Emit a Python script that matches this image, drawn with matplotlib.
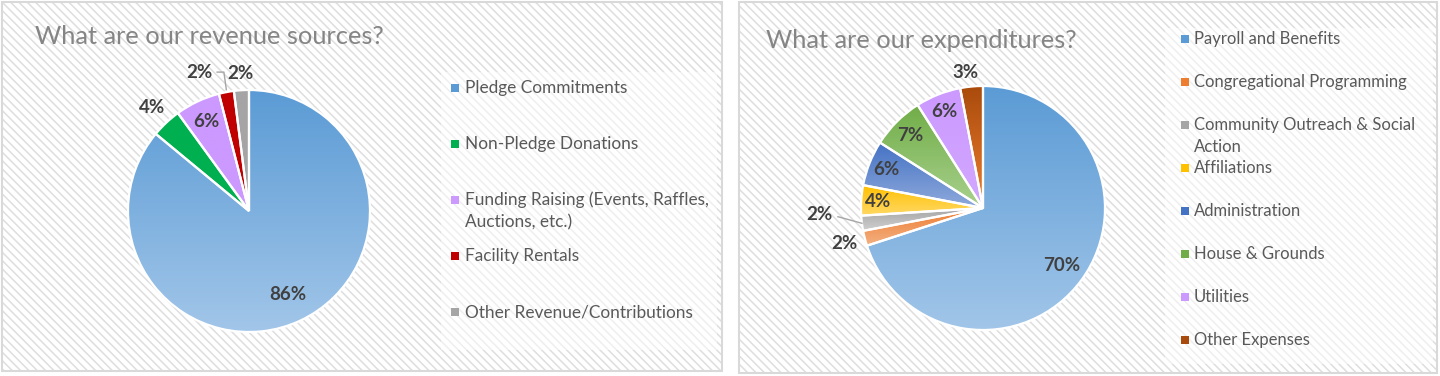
import numpy as np
import matplotlib
matplotlib.use('Agg')
import matplotlib.pyplot as plt
from matplotlib.patches import Rectangle
from matplotlib.colors import LinearSegmentedColormap

plt.rcParams['font.family'] = ['Lato', 'DejaVu Sans']
plt.rcParams['hatch.linewidth'] = 1.1

# Revenue data
rev_labels = ['Pledge Commitments', 'Non-Pledge Donations',
              'Funding Raising (Events, Raffles,\nAuctions, etc.)',
              'Facility Rentals', 'Other Revenue/Contributions']
rev_values = [86, 4, 6, 2, 2]
rev_colors = [('#5B9BD5', '#A2C6E9'), ('#00B050', '#00B050'), ('#CC99FF', '#CC99FF'),
              ('#C00000', '#C00000'), ('#A5A5A5', '#A5A5A5')]
rev_label_r = [0.76, 1.17, 0.82, 1.22, 1.14]
rev_label_shift = [0, 0, 0, 9, 0]

# Expenditure data
exp_labels = ['Payroll and Benefits', 'Congregational Programming',
              'Community Outreach & Social\nAction', 'Affiliations',
              'Administration', 'House & Grounds', 'Utilities', 'Other Expenses']
exp_values = [70, 2, 2, 4, 6, 7, 6, 3]
exp_colors = [('#5B9BD5', '#A2C6E9'), ('#ED7D31', '#F4B183'), ('#A5A5A5', '#D0D0D0'),
              ('#FFC000', '#FFD966'), ('#4472C4', '#8FAADC'), ('#70AD47', '#A9D18E'),
              ('#CC99FF', '#D2A8FF'), ('#A94B0C', '#ED7D31')]
exp_label_r = [0.80, 1.17, 1.34, 0.86, 0.85, 0.84, 0.85, 1.12]
exp_label_shift = [0, 0, -5, 0, 0, 0, 0, 2]

W, H = 1440, 376
fig = plt.figure(figsize=(W / 100, H / 100), dpi=100)
bg = fig.add_axes([0, 0, 1, 1])
bg.set_xlim(0, W)
bg.set_ylim(H, 0)
bg.axis('off')

# panels with striped fill
for x0, y0, w, h in [(2, 2, 720, 369), (739, 2, 698, 371)]:
    bg.add_patch(Rectangle((x0, y0), w, h, facecolor='white', edgecolor='#DEDEDE',
                           linewidth=0, hatch='\\\\\\\\', zorder=0))
    bg.add_patch(Rectangle((x0, y0), w, h, facecolor='none', edgecolor='#D9D9D9',
                           linewidth=1.5, zorder=1))
# legend areas
bg.add_patch(Rectangle((441, 72), 276, 278, facecolor='white', alpha=0.5,
                       edgecolor='none', zorder=1))
bg.add_patch(Rectangle((1165, 28), 268, 336, facecolor='white', alpha=0.5,
                       edgecolor='none', zorder=1))

bg.text(35, 36, 'What are our revenue sources?', fontsize=18.3, color='#858585',
        va='center', ha='left')
bg.text(766, 41, 'What are our expenditures?', fontsize=18.3, color='#858585',
        va='center', ha='left')


def draw_pie(cx, cy, r, values, colors, label_r, label_shift):
    ax = fig.add_axes([(cx - r) / W, (H - cy - r) / H, 2 * r / W, 2 * r / H])
    wedges, _ = ax.pie(values, startangle=90, counterclock=False, radius=1,
                       colors=[c[0] for c in colors],
                       wedgeprops=dict(edgecolor='white', linewidth=1.6))
    total = sum(values)
    start = 90.0
    for w, v, (c1, c2), lr, sh in zip(wedges, values, colors, label_r, label_shift):
        verts = w.get_patch_transform().transform(w.get_path().vertices)
        x0, y0 = verts.min(axis=0)
        x1, y1 = verts.max(axis=0)
        cmap = LinearSegmentedColormap.from_list('g', [c1, c2])
        im = ax.imshow(np.linspace(0, 1, 256).reshape(-1, 1), cmap=cmap,
                       extent=(x0, x1, y0, y1), aspect='auto', zorder=1,
                       origin='upper')
        im.set_clip_path(w)
        w.set_facecolor('none')
        w.set_zorder(2)
        sweep = 360.0 * v / total
        mid = np.radians(start - sweep / 2)
        ang = np.radians(start - sweep / 2 + sh)
        tx, ty = lr * np.cos(ang), lr * np.sin(ang)
        ax.text(tx, ty, f'{v}%', ha='center', va='center', fontsize=13.5,
                fontweight='bold', color='#404040', zorder=3)
        if sh != 0 and lr > 1.2:
            ex, ey = np.cos(mid), np.sin(mid)
            if sh > 0:
                # label above-left: horizontal then down to the wedge
                ax.plot([tx + 0.15, ex - 0.02, ex], [ty, ty, ey + 0.02],
                        color='#A6A6A6', lw=1, zorder=3, clip_on=False)
            else:
                # label to the left: horizontal line into the wedge
                ax.plot([tx + 0.15, ex], [ty - 0.02, ey], color='#A6A6A6', lw=1,
                        zorder=3, clip_on=False)
        start -= sweep
    ax.set_xlim(-1, 1)
    ax.set_ylim(-1, 1)
    ax.set_aspect('equal')
    ax.axis('off')


draw_pie(249, 211, 121, rev_values, rev_colors, rev_label_r, rev_label_shift)
draw_pie(983, 208, 122, exp_values, exp_colors, exp_label_r, exp_label_shift)


def draw_legend(labels, colors, mx, tx, y0, step, size):
    for i, (lab, c) in enumerate(zip(labels, colors)):
        y = y0 + i * step
        bg.add_patch(Rectangle((mx, y - 4), 8, 8, facecolor=c[0], edgecolor='none', zorder=2))
        for j, line in enumerate(lab.split('\n')):
            bg.text(tx, y + 22 * j, line, fontsize=size, color='#595959',
                    ha='left', va='center', zorder=3)


draw_legend(rev_labels, rev_colors, 451, 465, 88, 56, 12.4)
draw_legend(exp_labels, exp_colors, 1181, 1194, 39, 43, 12.0)

fig.savefig('out.png', dpi=100)
